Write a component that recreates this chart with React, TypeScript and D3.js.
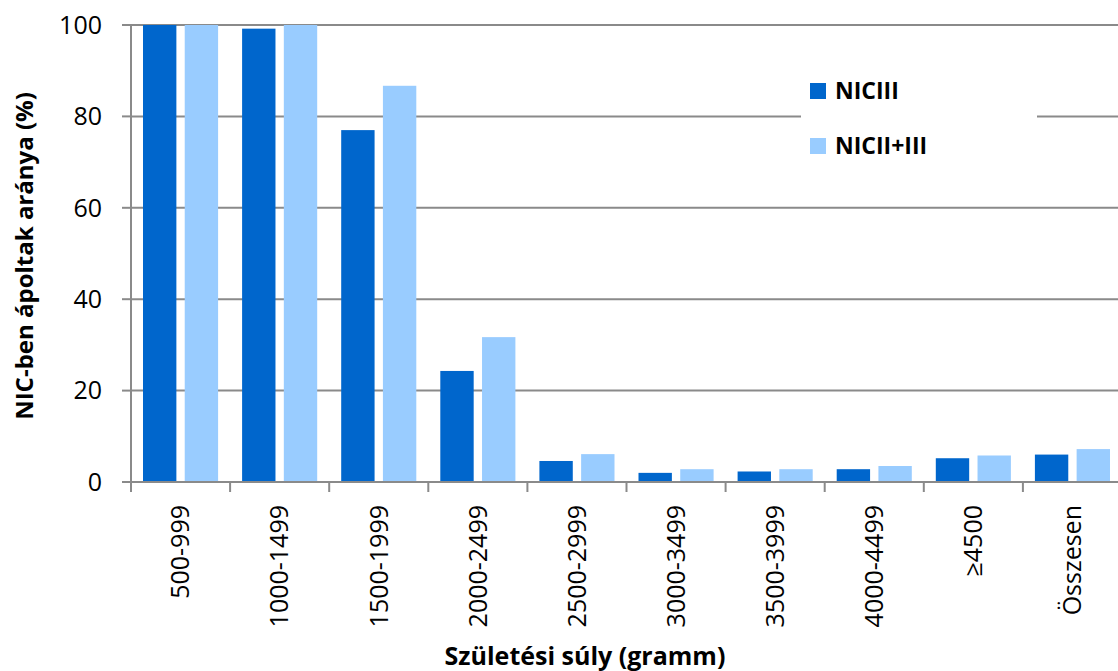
import React from "react";
import * as d3 from "d3";

const categories = ["500-999", "1000-1499", "1500-1999", "2000-2499", "2500-2999", "3000-3499", "3500-3999", "4000-4499", "≥4500", "Összesen"];
const seriesNames = ["NICIII", "NICII+III"];
const nic3 = [100, 99.2, 77.0, 24.3, 4.6, 2.0, 2.3, 2.8, 5.2, 6.0];
const nic23 = [100, 100, 86.7, 31.7, 6.1, 2.8, 2.8, 3.5, 5.8, 7.2];
const yTicks = [0, 20, 40, 60, 80, 100];
const colors = ["#0066CC", "#99CCFF"];

const W = 1118, H = 671;
const left = 131, right = 1122, top = 25, bottom = 482;
const font = "'Open Sans', sans-serif";

export default function App() {
  const x = d3.scaleBand<string>().domain(categories).range([left, right]).paddingInner(0).paddingOuter(0);
  const inner = d3.scaleBand<string>().domain(seriesNames).range([12, x.bandwidth() - 12]).paddingInner(0.2);
  const y = d3.scaleLinear().domain([0, 100]).range([bottom, top]);
  const series = [nic3, nic23];
  const grid = "#8a8a8a";
  return (
    <svg width={W} height={H} style={{ position: "absolute", left: 0, top: 0, background: "#fff" }}>
      {yTicks.filter(t => t > 0).map(t => (
        <line key={"g" + t} x1={left} x2={W} y1={y(t)} y2={y(t)} stroke={grid} strokeWidth={2} />
      ))}
      {categories.map((c, i) => (
        <g key={c}>
          {series.map((s, j) => (
            <rect key={j} x={x(c)! + inner(seriesNames[j])!} width={inner.bandwidth()} y={y(s[i])} height={y(0) - y(s[i])} fill={colors[j]} />
          ))}
        </g>
      ))}
      {/* legend */}
      <rect x={801} y={60} width={236} height={120} fill="#fff" />
      {seriesNames.map((n, j) => (
        <g key={n}>
          <rect x={810} y={83 + j * 55} width={16} height={16} fill={colors[j]} />
          <text x={835} y={99 + j * 55} fontFamily={font} fontWeight="bold" fontSize={23} fill="#000">{n}</text>
        </g>
      ))}
      {/* axes */}
      <line x1={left} x2={left} y1={top} y2={bottom} stroke={grid} strokeWidth={2} />
      <line x1={left - 9} x2={W} y1={bottom} y2={bottom} stroke={grid} strokeWidth={2} />
      {yTicks.map(t => (
        <g key={"t" + t}>
          <line x1={left - 9} x2={left} y1={y(t)} y2={y(t)} stroke={grid} strokeWidth={2} />
          <text x={102} y={y(t)} dy="0.35em" textAnchor="end" fontFamily={font} fontSize={25} fill="#000">{t}</text>
        </g>
      ))}
      {categories.map((c, i) => (
        <line key={"xt" + i} x1={x(c)!} x2={x(c)!} y1={bottom} y2={bottom + 10} stroke={grid} strokeWidth={2} />
      ))}
      {categories.map(c => {
        const cx = x(c)! + x.bandwidth() / 2;
        return (
          <text key={"xl" + c} transform={`translate(${cx},${505}) rotate(-90)`} textAnchor="end" dy="0.35em" fontFamily={font} fontSize={25} fill="#000">{c}</text>
        );
      })}
      <text transform={`translate(${25},${256}) rotate(-90)`} textAnchor="middle" dy="0.35em" fontFamily={font} fontWeight="bold" fontSize={24} fill="#000">NIC-ben ápoltak aránya (%)</text>
      <text x={585} y={665} textAnchor="middle" fontFamily={font} fontWeight="bold" fontSize={25} fill="#000">Születési súly (gramm)</text>
    </svg>
  );
}
